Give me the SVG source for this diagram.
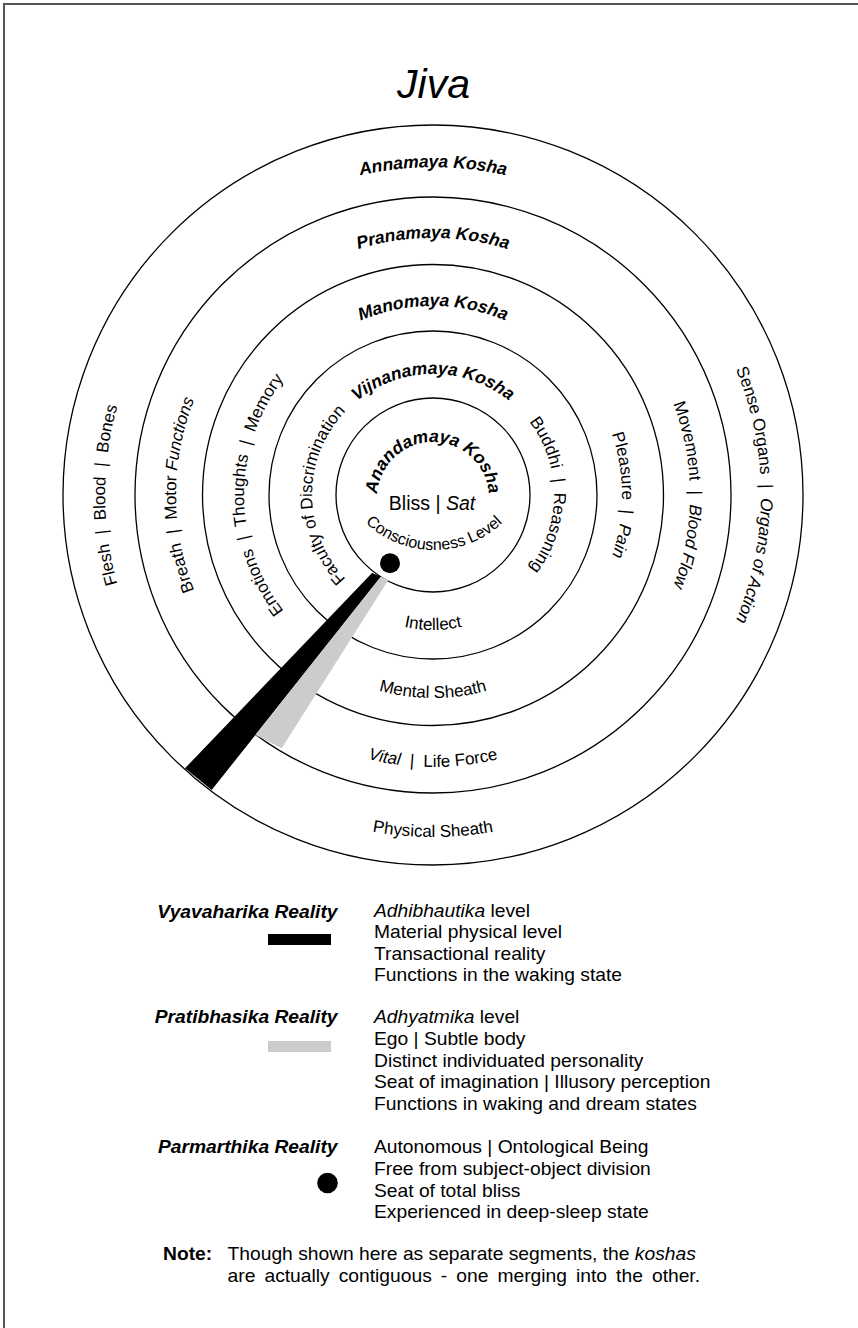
<svg xmlns="http://www.w3.org/2000/svg" xmlns:xlink="http://www.w3.org/1999/xlink" width="858" height="1328" viewBox="0 0 858 1328">
<style>
.ring{fill:none;stroke:#000;stroke-width:1.3}
.t{font-family:"Liberation Sans",Arial,sans-serif;fill:#000}
.lbl{font-size:17px}
.ttl{font-size:17.5px;font-weight:bold;font-style:italic}
.lg{font-size:17.5px}
.i{font-style:italic}
.b{font-weight:bold}
</style>
<defs>
<path id="annTop" d="M 105 495 A 328 328 0 0 1 761 495"/>
<path id="annL" d="M 433 823 A 328 328 0 0 1 433 167"/>
<path id="annR" d="M 433 167 A 328 328 0 0 1 433 823"/>
<path id="annB" d="M 91 495 A 342 342 0 0 0 775 495"/>
<path id="prTop" d="M 176 495 A 257 257 0 0 1 690 495"/>
<path id="prL" d="M 433 752 A 257 257 0 0 1 433 238"/>
<path id="prR" d="M 433 238 A 257 257 0 0 1 433 752"/>
<path id="prB" d="M 161 495 A 272 272 0 0 0 705 495"/>
<path id="mnTop" d="M 244 495 A 189 189 0 0 1 622 495"/>
<path id="mnL" d="M 433 684 A 189 189 0 0 1 433 306"/>
<path id="mnR" d="M 433 306 A 189 189 0 0 1 433 684"/>
<path id="mnB" d="M 230 495 A 203 203 0 0 0 636 495"/>
<path id="vjTop" d="M 312 495 A 121 121 0 0 1 554 495"/>
<path id="vjL" d="M 433 616 A 121 121 0 0 1 433 374"/>
<path id="vjR" d="M 433 374 A 121 121 0 0 1 433 616"/>
<path id="vjB" d="M 298 495 A 135 135 0 0 0 568 495"/>
<path id="anTop" d="M 384.5 526 A 56 56 0 1 1 481.5 526"/>
<path id="anB" d="M 347.4 500 A 100 100 0 0 0 520.6 500"/>
</defs>
<rect width="858" height="1328" fill="#fff"/>
<g id="frame" fill="none" stroke="#555" stroke-width="2">
<path d="M 4 1328 L 4 4 L 858 4"/>
</g>
<text id="title" class="t i" x="433.5" y="98" font-size="41" text-anchor="middle">Jiva</text>
<g id="rings">
<circle id="annamaya" class="ring" cx="433" cy="495" r="370"/>
<circle id="pranamaya" class="ring" cx="433" cy="495" r="298"/>
<circle id="manomaya" class="ring" cx="433" cy="495" r="230.5"/>
<circle id="vijnanamaya" class="ring" cx="433" cy="495" r="164"/>
<circle id="anandamaya" class="ring" cx="433" cy="495" r="97"/>
</g>
<g id="connectors">
<path id="vyavaharika-wedge" d="M 372 573 L 381 576.5 L 211.7 790 L 185 768.3 Z" fill="#000"/>
<path id="pratibhasika-wedge" d="M 381 576.5 L 388.3 580 L 281.7 748.3 L 255.3 735 Z" fill="#cccccc"/>
<circle id="parmarthika-dot" cx="390" cy="563.3" r="10" fill="#000"/>
</g>
<g id="annamaya-labels" class="t">
<text class="ttl"><textPath xlink:href="#annTop" href="#annTop" startOffset="50%" text-anchor="middle">Annamaya Kosha</textPath></text>
<text class="lbl"><textPath xlink:href="#annL" href="#annL" startOffset="50%" text-anchor="middle">Flesh &#160;|&#160; Blood &#160;|&#160; Bones</textPath></text>
<text class="lbl"><textPath xlink:href="#annR" href="#annR" startOffset="50%" text-anchor="middle">Sense Organs &#160;|&#160; <tspan class="i">Organs of Action</tspan></textPath></text>
<text class="lbl"><textPath xlink:href="#annB" href="#annB" startOffset="50%" text-anchor="middle">Physical Sheath</textPath></text>
</g>
<g id="pranamaya-labels" class="t">
<text class="ttl"><textPath xlink:href="#prTop" href="#prTop" startOffset="50%" text-anchor="middle">Pranamaya Kosha</textPath></text>
<text class="lbl"><textPath xlink:href="#prL" href="#prL" startOffset="50%" text-anchor="middle">Breath &#160;|&#160; Motor <tspan class="i">Functions</tspan></textPath></text>
<text class="lbl"><textPath xlink:href="#prR" href="#prR" startOffset="50%" text-anchor="middle">Movement &#160;|&#160; <tspan class="i">Blood Flow</tspan></textPath></text>
<text class="lbl"><textPath xlink:href="#prB" href="#prB" startOffset="50%" text-anchor="middle"><tspan class="i">Vital</tspan> &#160;|&#160; Life Force</textPath></text>
</g>
<g id="manomaya-labels" class="t">
<text class="ttl"><textPath xlink:href="#mnTop" href="#mnTop" startOffset="50%" text-anchor="middle">Manomaya Kosha</textPath></text>
<text class="lbl"><textPath xlink:href="#mnL" href="#mnL" startOffset="50%" text-anchor="middle">Emotions &#160;|&#160; Thoughts &#160;|&#160; Memory</textPath></text>
<text class="lbl"><textPath xlink:href="#mnR" href="#mnR" startOffset="50%" text-anchor="middle">Pleasure &#160;|&#160; <tspan class="i">Pain</tspan></textPath></text>
<text class="lbl"><textPath xlink:href="#mnB" href="#mnB" startOffset="50%" text-anchor="middle">Mental Sheath</textPath></text>
</g>
<g id="vijnanamaya-labels" class="t">
<text class="ttl"><textPath xlink:href="#vjTop" href="#vjTop" startOffset="50%" text-anchor="middle">Vijnanamaya Kosha</textPath></text>
<text class="lbl"><textPath xlink:href="#vjL" href="#vjL" startOffset="50%" text-anchor="middle">Faculty of Discrimination</textPath></text>
<text class="lbl"><textPath xlink:href="#vjR" href="#vjR" startOffset="50%" text-anchor="middle">Buddhi &#160;|&#160; Reasoning</textPath></text>
<text class="lbl"><textPath xlink:href="#vjB" href="#vjB" startOffset="50%" text-anchor="middle">Intellect</textPath></text>
</g>
<g id="anandamaya-labels" class="t">
<text class="ttl"><textPath xlink:href="#anTop" href="#anTop" startOffset="50%" text-anchor="middle">Anandamaya Kosha</textPath></text>
<text x="432" y="510" font-size="19.5" text-anchor="middle">Bliss | <tspan class="i">Sat</tspan></text>
<text font-size="16"><textPath xlink:href="#anB" href="#anB" startOffset="50%" text-anchor="middle">Consciousness Level</textPath></text>
</g>
<g id="legend-vyavaharika" class="t lg">
<text class="b i" text-anchor="end" transform="translate(337.5 918) scale(1.1 1)">Vyavaharika Reality</text>
<rect x="268" y="934" width="63" height="11" fill="#000"/>
<g transform="translate(374 0) scale(1.1 1)">
<text x="0" y="917"><tspan class="i">Adhibhautika</tspan> level</text>
<text x="0" y="938.5">Material physical level</text>
<text x="0" y="960">Transactional reality</text>
<text x="0" y="981.5">Functions in the waking state</text>
</g>
</g>
<g id="legend-pratibhasika" class="t lg">
<text class="b i" text-anchor="end" transform="translate(337.5 1023.3) scale(1.1 1)">Pratibhasika Reality</text>
<rect x="268" y="1041" width="63" height="11" fill="#cccccc"/>
<g transform="translate(374 0) scale(1.1 1)">
<text x="0" y="1023.3"><tspan class="i">Adhyatmika</tspan> level</text>
<text x="0" y="1045">Ego | Subtle body</text>
<text x="0" y="1066.7">Distinct individuated personality</text>
<text x="0" y="1088.3">Seat of imagination | Illusory perception</text>
<text x="0" y="1110">Functions in waking and dream states</text>
</g>
</g>
<g id="legend-parmarthika" class="t lg">
<text class="b i" text-anchor="end" transform="translate(337.5 1153.3) scale(1.1 1)">Parmarthika Reality</text>
<circle cx="327.5" cy="1183" r="10.3" fill="#000"/>
<g transform="translate(374 0) scale(1.1 1)">
<text x="0" y="1153.3">Autonomous | Ontological Being</text>
<text x="0" y="1175">Free from subject-object division</text>
<text x="0" y="1196.7">Seat of total bliss</text>
<text x="0" y="1218.3">Experienced in deep-sleep state</text>
</g>
</g>
<g id="note" class="t lg">
<text class="b" transform="translate(163 1260) scale(1.1 1)">Note:</text>
<g transform="translate(227.6 0) scale(1.1 1)">
<text x="0" y="1260">Though shown here as separate segments, the <tspan class="i">koshas</tspan></text>
<text x="0" y="1281.7" word-spacing="3.4">are actually contiguous - one merging into the other.</text>
</g>
</g>
</svg>
